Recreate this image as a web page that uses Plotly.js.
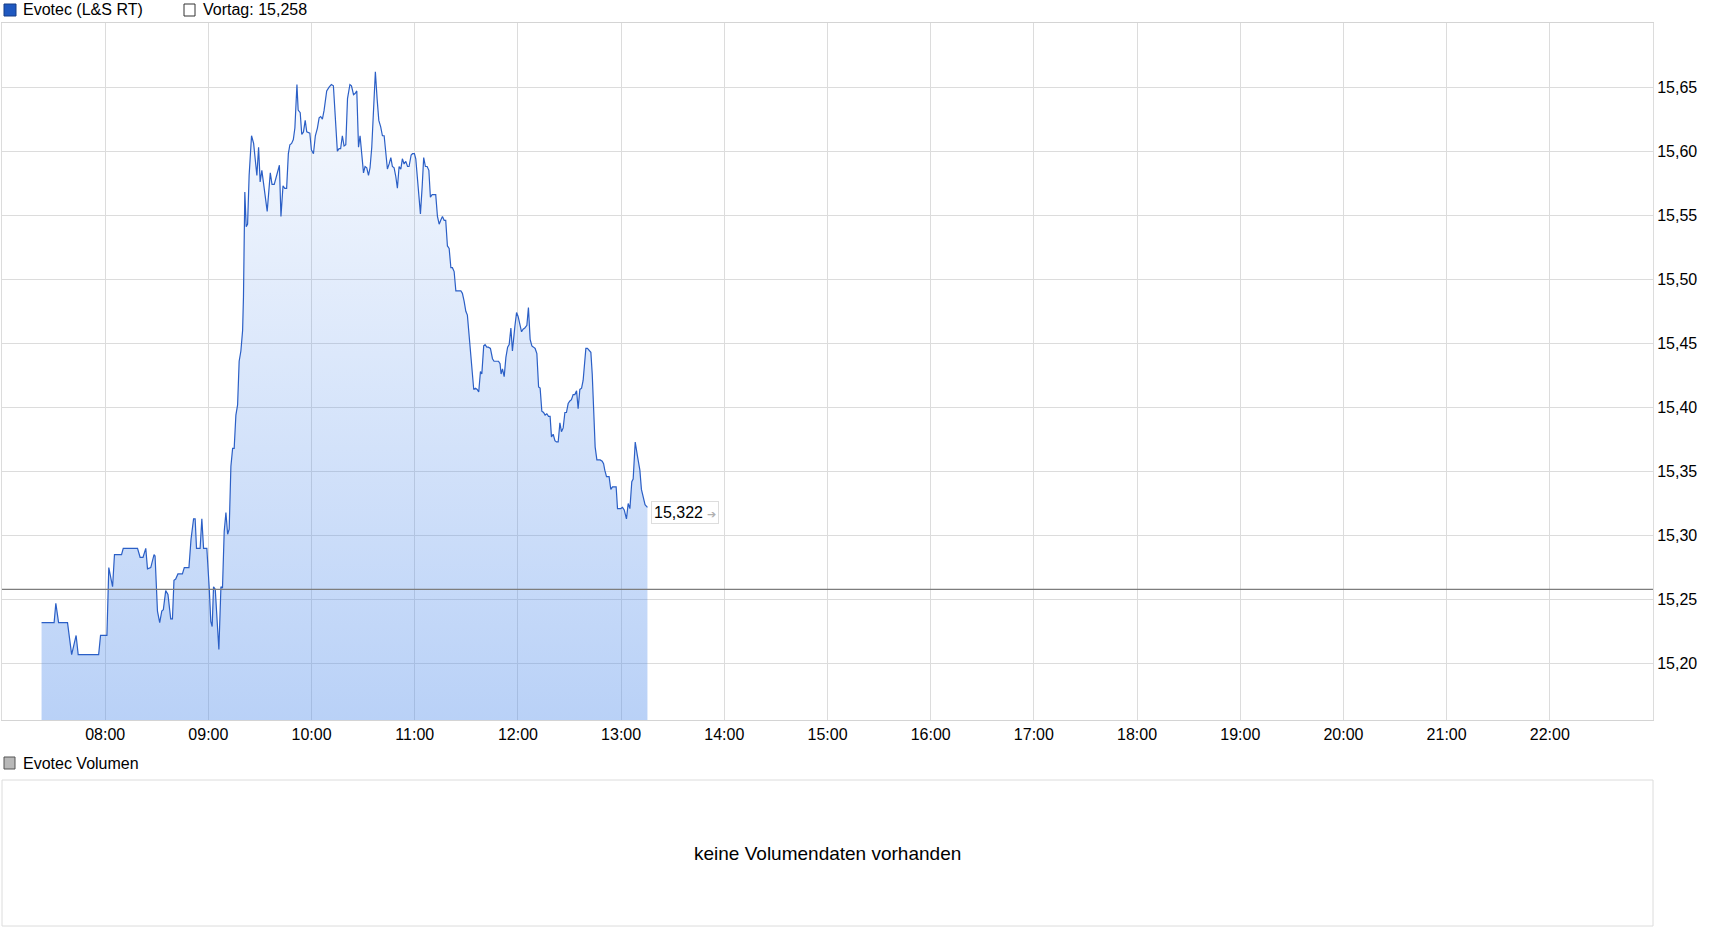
<!DOCTYPE html>
<html><head><meta charset="utf-8">
<script src="https://cdn.plot.ly/plotly-3.0.1.min.js"></script>
<style>html,body{margin:0;padding:0;background:#fff;overflow:hidden}#chart{width:1721px;height:944px}</style>
</head><body><div id="chart"></div>
<script>
const day = '2024-01-01 ';
const seriesName = 'Evotec (L&S RT)';
const prevLabel = 'Vortag: 15,258';
const volumeName = 'Evotec Volumen';
const noVolumeText = 'keine Volumendaten vorhanden';
const prevClose = 15.258;
const lastPriceText = '15,322';
const hourTicks = ['08:00','09:00','10:00','11:00','12:00','13:00','14:00','15:00','16:00','17:00','18:00','19:00','20:00','21:00','22:00'];
const priceTicks = [15.20,15.25,15.30,15.35,15.40,15.45,15.50,15.55,15.60,15.65];
const xStart = '07:00', xEnd = '23:00';
const yMin = 15.156, yMax = 15.70;

const times = ['07:23:00','07:30:18','07:31:18','07:32:54','07:38:06','07:40:30','07:43:06','07:44:18','07:56:12','07:57:18',
'08:01:00','08:02:06','08:04:18','08:05:24','08:09:30','08:10:30','08:18:48','08:20:18','08:22:00','08:23:36',
'08:24:36','08:26:30','08:28:24','08:29:00','08:30:24','08:31:42','08:32:54','08:33:48','08:35:12','08:36:30',
'08:38:06','08:39:06','08:40:00','08:41:00','08:42:18','08:44:54','08:46:00','08:48:42','08:49:54','08:51:24',
'08:52:18','08:53:06','08:55:12','08:56:12','08:57:12','08:59:06','09:00:30','09:01:24','09:02:12','09:03:00',
'09:04:00','09:05:18','09:06:06','09:07:18','09:08:12','09:09:12','09:10:12','09:11:12','09:12:06','09:13:06',
'09:14:06','09:15:00','09:16:00','09:17:00','09:17:54','09:18:54','09:19:54','09:20:24','09:21:12','09:22:00',
'09:22:48','09:23:42','09:25:06','09:26:18','09:27:12','09:28:12','09:29:12','09:30:06','09:31:06','09:32:30',
'09:34:12','09:36:00','09:37:00','09:38:18','09:39:54','09:41:18','09:42:12','09:43:24','09:44:24','09:45:30',
'09:46:30','09:47:24','09:48:24','09:49:24','09:50:18','09:51:30','09:52:12','09:53:24','09:54:18','09:55:18',
'09:56:18','09:57:12','09:59:00','09:59:54','10:01:06','10:02:12','10:03:24','10:04:24','10:05:18','10:06:18',
'10:07:18','10:08:48','10:10:12','10:11:30','10:12:42','10:13:48','10:15:00','10:16:00','10:16:54','10:17:54',
'10:18:54','10:19:54','10:20:54','10:22:18','10:23:12','10:24:24','10:25:18','10:26:18','10:27:18','10:28:12',
'10:29:12','10:30:12','10:31:06','10:32:06','10:33:06','10:34:00','10:35:00','10:36:00','10:37:06','10:38:06',
'10:39:06','10:40:12','10:41:12','10:42:12','10:43:12','10:44:06','10:45:06','10:46:06','10:47:00','10:48:00',
'10:49:00','10:49:54','10:50:54','10:51:54','10:52:48','10:53:48','10:54:48','10:55:48','10:56:42','10:57:54',
'10:58:42','10:59:48','11:00:36','11:01:36','11:02:30','11:03:18','11:04:18','11:05:12','11:06:12','11:07:12',
'11:08:12','11:09:06','11:10:06','11:12:12','11:13:12','11:14:12','11:15:06','11:16:06','11:17:06','11:18:00',
'11:19:00','11:20:00','11:21:00','11:21:54','11:22:54','11:23:54','11:26:48','11:27:42','11:28:42','11:29:42',
'11:30:36','11:31:36','11:32:36','11:33:30','11:34:18','11:35:18','11:36:18','11:37:12','11:38:12','11:39:00',
'11:40:06','11:40:54','11:41:54','11:42:48','11:44:00','11:45:12','11:46:06','11:48:42','11:49:36','11:50:12',
'11:51:00','11:52:00','11:53:00','11:54:00','11:54:54','11:55:54','11:56:48','11:58:12','11:59:12','12:00:06',
'12:01:06','12:02:06','12:03:00','12:04:00','12:05:12','12:06:06','12:07:06','12:08:06','12:09:06','12:10:00',
'12:11:00','12:12:00','12:12:54','12:13:54','12:14:54','12:15:48','12:16:48','12:17:48','12:18:42','12:19:30',
'12:20:30','12:21:30','12:22:24','12:23:24','12:24:24','12:25:18','12:26:18','12:27:18','12:28:12','12:29:12',
'12:30:12','12:31:06','12:32:06','12:33:06','12:34:06','12:35:00','12:36:00','12:37:00','12:37:54','12:38:54',
'12:39:30','12:40:24','12:41:24','12:42:24','12:43:12','12:43:54','12:44:54','12:45:54','12:47:48','12:49:00',
'12:49:48','12:50:30','12:51:30','12:53:00','12:54:00','12:55:00','12:57:06','12:57:54','12:59:48','13:00:48',
'13:01:48','13:03:06','13:04:06','13:05:06','13:06:12','13:07:00','13:08:12','13:09:30','13:10:54','13:11:48',
'13:12:48','13:13:54','13:15:18'];

const prices = [15.232,15.232,15.247,15.232,15.232,15.207,15.222,15.207,15.207,15.222,
15.222,15.275,15.260,15.285,15.285,15.290,15.290,15.283,15.283,15.290,
15.274,15.275,15.285,15.284,15.241,15.232,15.241,15.242,15.257,15.254,
15.235,15.235,15.265,15.266,15.270,15.270,15.275,15.275,15.297,15.313,
15.313,15.290,15.290,15.313,15.290,15.290,15.259,15.233,15.229,15.260,
15.258,15.226,15.211,15.260,15.259,15.303,15.318,15.301,15.305,15.354,
15.368,15.368,15.394,15.402,15.436,15.444,15.460,15.486,15.568,15.541,
15.543,15.581,15.612,15.606,15.596,15.581,15.603,15.576,15.585,15.571,
15.553,15.583,15.574,15.574,15.581,15.589,15.549,15.573,15.571,15.571,
15.598,15.605,15.606,15.609,15.618,15.652,15.632,15.630,15.613,15.615,
15.624,15.615,15.614,15.601,15.598,15.612,15.618,15.626,15.627,15.625,
15.632,15.647,15.650,15.652,15.651,15.623,15.600,15.602,15.602,15.612,
15.604,15.605,15.641,15.652,15.651,15.644,15.645,15.647,15.603,15.612,
15.600,15.583,15.588,15.587,15.581,15.587,15.603,15.632,15.662,15.641,
15.624,15.619,15.612,15.612,15.599,15.586,15.590,15.595,15.588,15.587,
15.580,15.571,15.588,15.586,15.594,15.590,15.592,15.588,15.588,15.597,
15.598,15.598,15.594,15.578,15.564,15.551,15.572,15.595,15.588,15.588,
15.585,15.564,15.566,15.566,15.549,15.543,15.546,15.549,15.546,15.546,
15.526,15.524,15.509,15.509,15.506,15.491,15.491,15.489,15.483,15.475,
15.472,15.457,15.441,15.424,15.414,15.415,15.414,15.412,15.428,15.426,
15.448,15.449,15.447,15.447,15.446,15.438,15.436,15.436,15.434,15.426,
15.430,15.424,15.439,15.447,15.449,15.462,15.444,15.463,15.474,15.471,
15.465,15.459,15.461,15.462,15.464,15.478,15.453,15.448,15.447,15.446,
15.442,15.416,15.415,15.397,15.396,15.394,15.395,15.393,15.393,15.377,
15.379,15.374,15.373,15.373,15.388,15.381,15.384,15.396,15.396,15.403,
15.405,15.406,15.410,15.410,15.413,15.399,15.414,15.415,15.421,15.436,
15.446,15.446,15.444,15.443,15.426,15.396,15.369,15.359,15.359,15.358,
15.356,15.351,15.346,15.346,15.336,15.338,15.338,15.321,15.321,15.322,
15.320,15.313,15.325,15.321,15.342,15.344,15.373,15.362,15.351,15.336,
15.330,15.324,15.322];

// pixel layout
const W = 1721, H = 944, L = 2, R = 1653, T = 23, B = 720;
const px = X => (X - L) / (R - L);
const py = Y => 1 - Y / H;
const FONT = '"Liberation Sans", Arial, sans-serif';

const x = times.map(t => day + t);
const lastX = x[x.length - 1], lastY = prices[prices.length - 1];

const trace = {
  type: 'scatter', mode: 'lines', x: x, y: prices,
  line: {color: '#2b5fc6', width: 1.2},
  fill: 'tozeroy',
  fillgradient: {type: 'vertical', start: yMin, stop: yMax,
    colorscale: [[0, 'rgba(80,140,235,0.40)'], [1, 'rgba(80,140,235,0.02)']]},
  hoverinfo: 'skip', showlegend: false
};

function sq(x0, y0, x1, y1, fill, line) {
  return {type: 'rect', xref: 'paper', yref: 'paper', x0: px(x0), x1: px(x1), y0: py(y1), y1: py(y0),
    fillcolor: fill, line: {color: line, width: 1}, layer: 'above'};
}
function txt(text, X, Y, size, anchor) {
  return {text: text, xref: 'paper', yref: 'paper', x: px(X), y: py(Y), xanchor: anchor || 'left', yanchor: 'middle',
    showarrow: false, font: {family: FONT, size: size, color: '#000'}};
}

const layout = {
  width: W, height: H, margin: {l: L, r: W - R, t: 0, b: 0},
  paper_bgcolor: '#fff', plot_bgcolor: '#fff', separators: ',.',
  font: {family: FONT, size: 16, color: '#000'},
  xaxis: {type: 'date', range: [day + xStart, day + xEnd], tickvals: hourTicks.map(h => day + h), ticktext: hourTicks,
    showgrid: true, gridcolor: '#dcdcdc', gridwidth: 1, zeroline: false, ticks: '',
    showline: true, mirror: true, linecolor: '#d4d4d4', linewidth: 1, tickfont: {size: 16, color: '#000'}, fixedrange: true},
  yaxis: {domain: [1 - B / H, 1 - T / H], range: [yMin, yMax], side: 'right', tickvals: priceTicks, tickformat: '.2f',
    showgrid: true, gridcolor: '#dcdcdc', gridwidth: 1, zeroline: false, ticks: '',
    showline: true, mirror: true, linecolor: '#dcdcdc', linewidth: 1, tickfont: {size: 16, color: '#000'}, fixedrange: true},
  shapes: [
    {type: 'line', xref: 'paper', x0: 0, x1: 1, yref: 'y', y0: prevClose, y1: prevClose, line: {color: '#7d7d7d', width: 1.3}, layer: 'above'},
    sq(4, 4, 16, 16, '#1f58c0', '#163d86'),
    sq(184, 4, 195, 16, '#ffffff', '#333333'),
    sq(4, 757, 15, 769, '#b8b8b8', '#555555'),
    {type: 'rect', xref: 'paper', yref: 'paper', x0: 0, x1: 1, y0: py(926), y1: py(780), line: {color: '#dcdcdc', width: 1}, fillcolor: 'rgba(0,0,0,0)'}
  ],
  annotations: [
    txt(seriesName, 21, 10, 16),
    txt(prevLabel, 201, 10, 16),
    txt(volumeName, 21, 763, 16),
    txt(noVolumeText, (L + R) / 2, 853, 19, 'center'),
    {text: lastPriceText + ' <span style="color:#b0b0b0;font-size:11px">➔</span>', x: lastX, y: lastY, xref: 'x', yref: 'y',
      xanchor: 'left', yanchor: 'middle', xshift: 4, yshift: -5, showarrow: false,
      bgcolor: '#fff', bordercolor: '#dddddd', borderwidth: 1, borderpad: 2,
      font: {family: FONT, size: 16, color: '#000'}}
  ]
};

Plotly.newPlot('chart', [trace], layout, {staticPlot: true, displayModeBar: false});
</script></body></html>
